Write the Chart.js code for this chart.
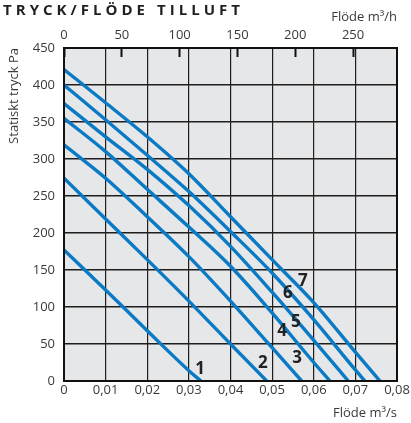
<!DOCTYPE html>
<html>
<head>
<meta charset="utf-8">
<script src="https://cdn.jsdelivr.net/npm/chart.js@4.4.1/dist/chart.umd.min.js"></script>
<style>
  html, body { margin: 0; padding: 0; background: #fff; }
</style>
</head>
<body>
<canvas id="chart" width="411" height="423"></canvas>
<script>
// flow in m3/s, static pressure in Pa
const flow1 = [0, 0.01, 0.02, 0.03, 0.0329];
const press1 = [177, 123, 68, 14, 0];
const flow2 = [0, 0.01, 0.02, 0.03, 0.04, 0.0487];
const press2 = [274, 219, 164, 108, 50, 0];
const flow3 = [0, 0.01, 0.02, 0.03, 0.04, 0.05, 0.0571];
const press3 = [319, 274, 222, 168, 108, 45, 0];
const flow4 = [0, 0.01, 0.02, 0.03, 0.04, 0.05, 0.06, 0.0639];
const press4 = [355, 310, 259, 208, 155, 92, 25, 0];
const flow5 = [0, 0.01, 0.02, 0.03, 0.04, 0.05, 0.06, 0.0683];
const press5 = [375, 330, 286, 237, 182, 120, 55, 0];
const flow6 = [0, 0.01, 0.02, 0.03, 0.04, 0.05, 0.06, 0.07, 0.0723];
const press6 = [400, 353, 305, 256, 202, 146, 83, 15, 0];
const flow7 = [0, 0.01, 0.02, 0.03, 0.04, 0.05, 0.06, 0.07, 0.0759];
const press7 = [421, 376, 330, 280, 222, 164, 106, 39, 0];

// curve number labels
const curveNames = ["1", "2", "3", "4", "5", "6", "7"];
const nameFlow = [0.0327, 0.0478, 0.056, 0.0524, 0.0557, 0.0538, 0.0574];
const namePress = [16, 24, 31, 68, 80, 119, 135];

const flows = [flow1, flow2, flow3, flow4, flow5, flow6, flow7];
const presses = [press1, press2, press3, press4, press5, press6, press7];

const BLUE = "#0a7ac4";
const FONT = "'Open Sans', 'DejaVu Sans', sans-serif";
const tickFont = { family: FONT, size: 13 };
const TEXT = "#3a3a3a";

const datasets = flows.map((f, i) => ({
  label: curveNames[i],
  data: f.map((q, j) => ({ x: q, y: presses[i][j] })),
  borderColor: BLUE,
  borderWidth: 3.4,
  pointRadius: 0,
  cubicInterpolationMode: "monotone",
  xAxisID: "x",
  yAxisID: "y",
}));

const areaPlugin = {
  id: "area",
  beforeDraw(chart) {
    const { ctx, chartArea: a } = chart;
    ctx.save();
    ctx.fillStyle = "#e6e7e9";
    ctx.fillRect(a.left, a.top, a.right - a.left, a.bottom - a.top);
    ctx.restore();
  },
  afterDatasetsDraw(chart) {
    const { ctx, chartArea: a, scales } = chart;
    ctx.save();
    ctx.strokeStyle = "#111";
    ctx.lineWidth = 2;
    ctx.strokeRect(a.left, a.top, a.right - a.left, a.bottom - a.top);

    ctx.fillStyle = "#222";
    ctx.font = "bold 17px " + FONT;
    ctx.textAlign = "center";
    ctx.textBaseline = "middle";
    curveNames.forEach((n, i) => {
      ctx.fillText(n, scales.x.getPixelForValue(nameFlow[i]), scales.y.getPixelForValue(namePress[i]));
    });
    ctx.restore();
  },
  afterDraw(chart) {
    const { ctx } = chart;
    const title = "TRYCK/FLÖDE TILLUFT";
    ctx.save();
    ctx.font = "bold 15px " + FONT;
    ctx.fillStyle = "#231f20";
    ctx.textBaseline = "alphabetic";
    ctx.textAlign = "left";
    const w = ctx.measureText(title).width;
    ctx.letterSpacing = ((237 - w) / (title.length - 1)).toFixed(2) + "px";
    ctx.fillText(title, 3, 15);
    ctx.restore();
  },
};

new Chart(document.getElementById("chart"), {
  type: "line",
  data: { datasets },
  options: {
    responsive: false,
    animation: false,
    layout: { padding: { left: 0, right: 14, top: 0, bottom: 0 } },
    plugins: { legend: { display: false }, tooltip: { enabled: false } },
    scales: {
      x: {
        type: "linear",
        position: "bottom",
        min: 0,
        max: 0.08,
        ticks: {
          stepSize: 0.01,
          padding: 1,
          font: tickFont,
          color: TEXT,
          callback: (v) => (v === 0 ? "0" : v.toFixed(2).replace(".", ",")),
        },
        grid: { color: "#1e1e1e", lineWidth: 1.2, drawTicks: false },
        border: { display: false },
        title: {
          display: true,
          text: "Flöde m³/s",
          align: "end",
          padding: { top: 0, bottom: 2 },
          font: tickFont,
          color: TEXT,
        },
        afterFit: (s) => { s.height = 42; },
      },
      xTop: {
        type: "linear",
        position: "top",
        min: 0,
        max: 288,
        ticks: { stepSize: 50, includeBounds: false, padding: 14, font: tickFont, color: TEXT },
        grid: { drawOnChartArea: false, drawTicks: true, tickLength: -9, tickWidth: 2, tickColor: "#111" },
        border: { display: false },
        title: {
          display: true,
          text: "Flöde m³/h",
          align: "end",
          padding: { top: 9, bottom: 0 },
          font: tickFont,
          color: TEXT,
        },
        afterFit: (s) => { s.height = 48; },
      },
      y: {
        min: 0,
        max: 450,
        ticks: { stepSize: 50, padding: 9, font: tickFont, color: TEXT },
        grid: { color: "#1e1e1e", lineWidth: 1.4, drawTicks: false },
        border: { display: false },
        title: {
          display: true,
          text: "Statiskt tryck Pa",
          align: "end",
          padding: { top: 6, bottom: 0 },
          font: tickFont,
          color: TEXT,
        },
        afterFit: (s) => { s.width = 64; },
      },
    },
  },
  plugins: [areaPlugin],
});
</script>
</body>
</html>
